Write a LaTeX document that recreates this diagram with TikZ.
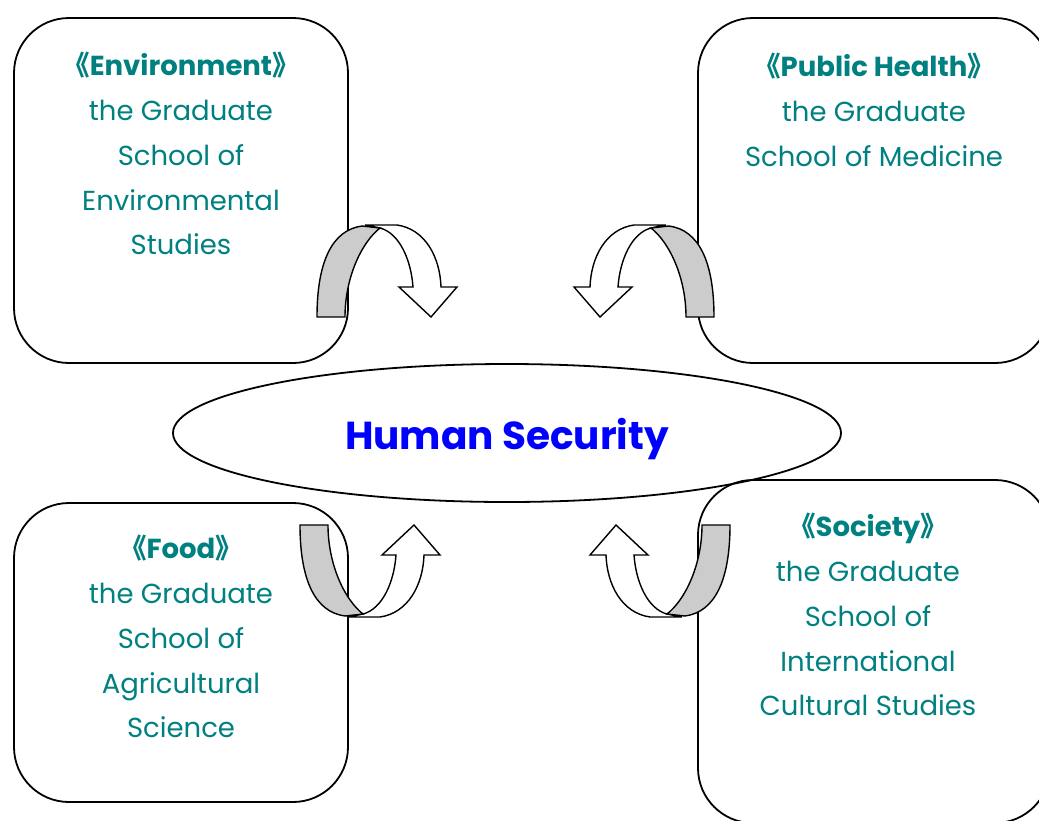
\documentclass[tikz,border=0pt]{standalone}
\usepackage{fontspec}
\setmainfont{Poppins}
\newfontfamily\cjkfont{Noto Sans CJK SC}
\usetikzlibrary{shapes.geometric}
\definecolor{schoolteal}{RGB}{0,128,128}
\definecolor{bandgray}{RGB}{204,204,204}
\tikzset{
  box/.style={draw, line width=1.8pt, rounded corners=55pt, inner sep=0pt},
  schooltext/.style={text=schoolteal, align=center, inner sep=0pt,
    font=\fontsize{27.5}{44.8}\selectfont},
  turnarrow/.pic={
    % white head part
    \draw[line width=1.4pt, fill=white] (48,-92) -- (80,-92)
      .. controls (108,-88) and (123,-60) .. (124,-30) -- (140,-30) -- (114,0)
      -- (82,-30) -- (96,-30) .. controls (94,-58) and (82,-84) .. (63,-89) -- cycle;
    % gray back part
    \draw[line width=1.4pt, fill=bandgray] (0,0) .. controls (0,-55) and (15,-87) .. (45,-91)
      -- (63,-89) .. controls (45,-75) and (28,-40) .. (28,0) -- cycle;
  }
}
\newcommand{\dq}[1]{{\cjkfont《}#1{\cjkfont》}}

\begin{document}
\begin{tikzpicture}[x=1pt, y=-1pt]
  \useasboundingbox (0,0) rectangle (1039,820);
  \clip (0,0) rectangle (1039,820);
  % boxes
  \node[box, minimum width=334pt, minimum height=345pt] (env) at (181,190.5) {};
  \node[box, minimum width=352pt, minimum height=345pt] (health) at (874,190.5) {};
  \node[box, minimum width=334pt, minimum height=299pt] (food) at (181,652.5) {};
  \node[box, minimum width=352pt, minimum height=343pt] (society) at (874,651.5) {};
  % texts
  \node[schooltext, anchor=north] (envtext) at (181,52)
    {\textbf{\dq{Environment}}\\the Graduate\\School of\\Environmental\\Studies};
  \node[schooltext, anchor=north] (healthtext) at (874,53)
    {\textbf{\dq{Public Health}}\\the Graduate\\School of Medicine};
  \node[schooltext, anchor=north] (foodtext) at (181,535)
    {\textbf{\dq{Food}}\\the Graduate\\School of\\Agricultural\\Science};
  \node[schooltext, anchor=north] (societytext) at (868,513)
    {\textbf{\dq{Society}}\\the Graduate\\School of\\International\\Cultural Studies};
  % center
  \node[ellipse, draw, line width=1.8pt, minimum width=668pt, minimum height=138pt,
    text=blue, font=\fontsize{39}{40}\selectfont\bfseries] (hs) at (507,433)
    {\raisebox{-6pt}[\height][\depth]{Human Security}};
  % arrows
  \pic at (317,317) {turnarrow};
  \pic[xscale=-1] at (714,317) {turnarrow};
  \pic[yscale=-1] at (300,525) {turnarrow};
  \pic[xscale=-1, yscale=-1] at (730,525) {turnarrow};
\end{tikzpicture}
\end{document}
